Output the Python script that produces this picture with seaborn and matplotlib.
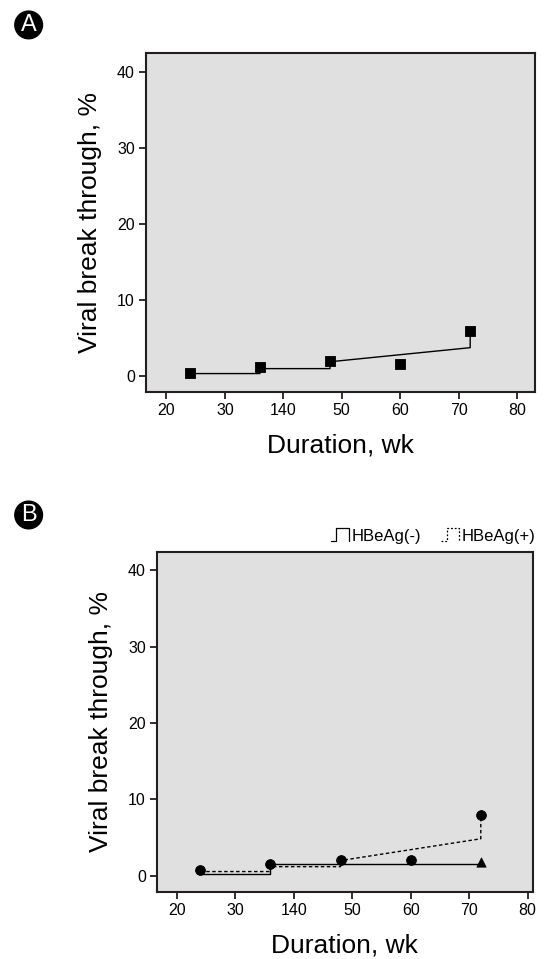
import matplotlib
matplotlib.use("Agg")
import matplotlib.pyplot as plt
from matplotlib.legend_handler import HandlerBase
from matplotlib.lines import Line2D
import seaborn as sns
import pandas as pd

# panel A: all patients
a_weeks = [24, 36, 48, 60, 72]
a_points = [0.48, 1.27, 1.97, 1.66, 5.9]
a_curve_x = [24, 36, 36, 48, 48, 72, 72]
a_curve_y = [0.35, 0.35, 1.0, 1.0, 1.9, 3.75, 5.8]

# panel B: by HBeAg status
b_pos_weeks = [24, 36, 48, 60, 72]
b_pos_points = [0.74, 1.52, 2.04, 2.04, 8.0]
b_neg_weeks = [72]
b_neg_points = [1.75]
b_neg_curve_x = [24, 36, 36, 72]
b_neg_curve_y = [0.2, 0.2, 1.5, 1.5]
b_pos_curve_x = [24, 36, 36, 48, 48, 72, 72]
b_pos_curve_y = [0.56, 0.56, 1.2, 1.2, 2.0, 4.85, 8.0]

xticks = [20, 30, 40, 50, 60, 70, 80]
xtick_labels = ["20", "30", "140", "50", "60", "70", "80"]
yticks = [0, 10, 20, 30, 40]

sns.set_theme(style="ticks")
plt.rcParams["font.family"] = ["Liberation Sans", "DejaVu Sans"]
plt.rcParams["text.color"] = "black"
plt.rcParams["axes.labelcolor"] = "black"
plt.rcParams["xtick.labelcolor"] = "black"
plt.rcParams["ytick.labelcolor"] = "black"

FRAME = "#231f20"
BG = "#e0e0e0"


class StepHandler(HandlerBase):
    def __init__(self, ls):
        super().__init__()
        self.ls = ls

    def create_artists(self, legend, orig_handle, xdescent, ydescent,
                       width, height, fontsize, trans):
        x0, y0 = -xdescent, -ydescent
        xs = [x0, x0 + width * 0.3, x0 + width * 0.3, x0 + width, x0 + width]
        ys = [y0, y0, y0 + height * 1.1, y0 + height * 1.1, y0]
        line = Line2D(xs, ys, color="black", lw=0.9, ls=self.ls, transform=trans)
        return [line]


def style_axes(ax, xlim):
    ax.set_facecolor(BG)
    ax.set_xlim(*xlim)
    ax.set_ylim(-2.1, 42.4)
    ax.set_xticks(xticks)
    ax.set_xticklabels(xtick_labels)
    ax.set_yticks(yticks)
    for sp in ax.spines.values():
        sp.set_visible(True)
        sp.set_color(FRAME)
        sp.set_linewidth(1.5)
    ax.tick_params(direction="out", length=5, width=1.3, color=FRAME,
                   labelsize=11.5, pad=3)
    ax.set_xlabel("Duration, wk", fontsize=19, labelpad=11)
    ax.set_ylabel("Viral break through, %", fontsize=19, labelpad=11)
    ax.grid(False)


fig = plt.figure(figsize=(5.51, 9.59), dpi=100)
ax_a = fig.add_axes([0.265, 0.591, 0.706, 0.3535])
ax_b = fig.add_axes([0.285, 0.070, 0.682, 0.3545])

# panel A
df_a = pd.DataFrame({"x": a_curve_x, "y": a_curve_y})
sns.lineplot(data=df_a, x="x", y="y", ax=ax_a, estimator=None, sort=False,
             color="black", lw=1.0)
sns.scatterplot(x=a_weeks, y=a_points, ax=ax_a, marker="s", s=60,
                color="black", edgecolor="black", zorder=3)
style_axes(ax_a, (16.5, 83.1))

# panel B
df_neg = pd.DataFrame({"x": b_neg_curve_x, "y": b_neg_curve_y})
df_pos = pd.DataFrame({"x": b_pos_curve_x, "y": b_pos_curve_y})
sns.lineplot(data=df_neg, x="x", y="y", ax=ax_b, estimator=None, sort=False,
             color="black", lw=1.0)
sns.lineplot(data=df_pos, x="x", y="y", ax=ax_b, estimator=None, sort=False,
             color="black", lw=1.0, ls=(0, (2.5, 1.8)))
sns.scatterplot(x=b_pos_weeks, y=b_pos_points, ax=ax_b, marker="o", s=50,
                color="black", edgecolor="black", zorder=3)
sns.scatterplot(x=b_neg_weeks, y=b_neg_points, ax=ax_b, marker="^", s=45,
                color="black", edgecolor="black", zorder=3)
style_axes(ax_b, (16.6, 80.9))

h_neg = Line2D([], [], color="black")
h_pos = Line2D([], [], color="black", ls=":")
ax_b.legend([h_neg, h_pos], ["HBeAg(-)", "HBeAg(+)"],
            handler_map={h_neg: StepHandler("-"), h_pos: StepHandler((0, (1.5, 1.5)))},
            loc="lower right", bbox_to_anchor=(1.03, 1.0), ncol=2, frameon=False,
            fontsize=12, handlelength=1.1, handletextpad=0.15, columnspacing=1.2,
            borderaxespad=0.1)

for label, y in [("A", 0.974), ("B", 0.463)]:
    fig.text(0.052, y, label, color="white", fontsize=17, ha="center", va="center",
             bbox=dict(boxstyle="circle,pad=0.12", fc="black", ec="black"))

fig.savefig("out.png", dpi=100)
